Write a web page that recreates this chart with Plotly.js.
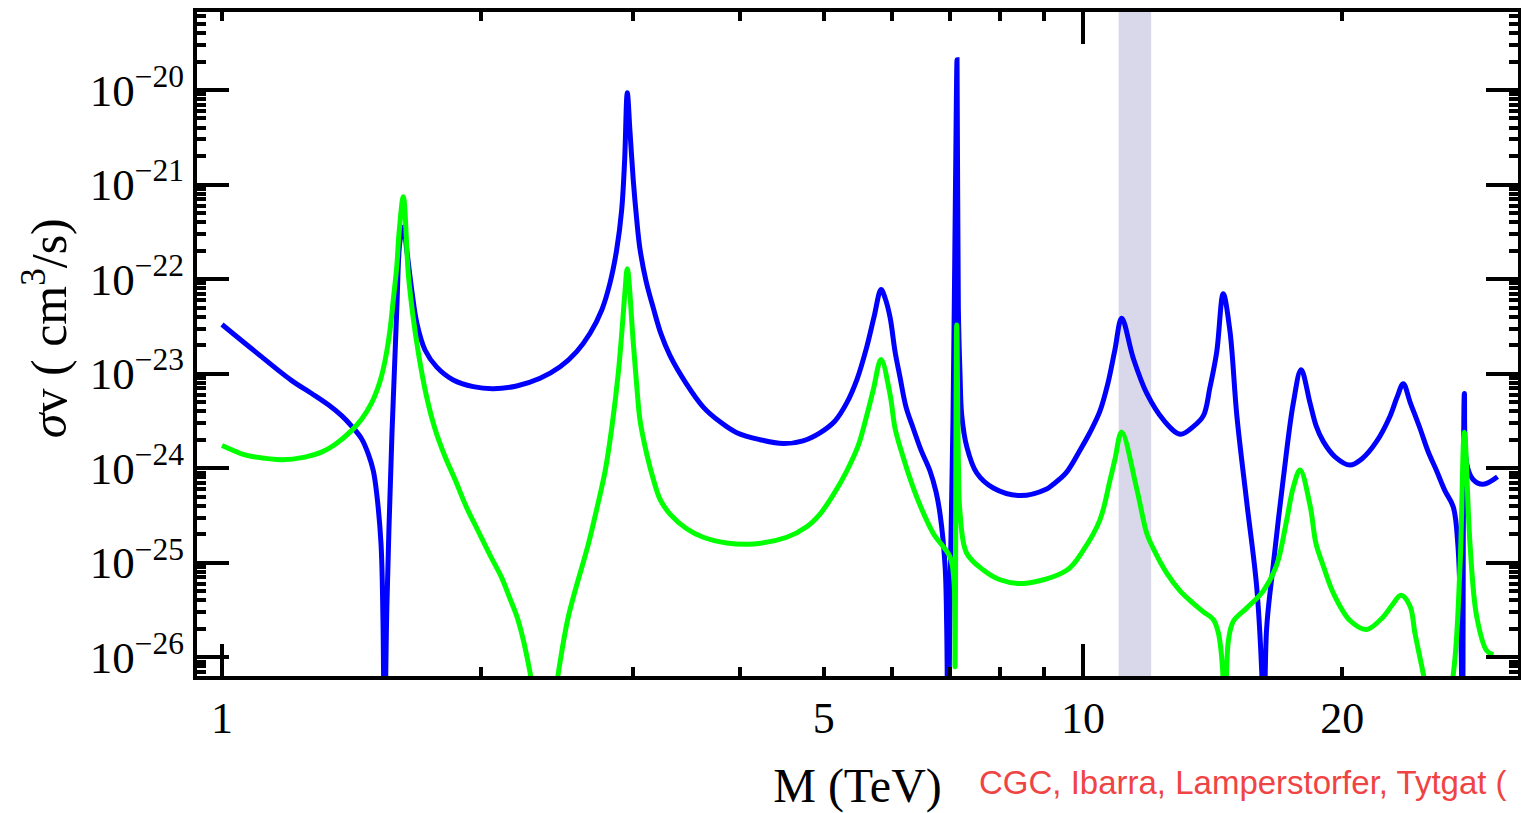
<!DOCTYPE html>
<html>
<head>
<meta charset="utf-8">
<script src="https://cdn.plot.ly/plotly-3.0.1.min.js"></script>
<style>html,body{margin:0;padding:0;background:#fff;}#chart{width:1521px;height:813px;}</style>
</head>
<body>
<div id="chart"></div>
<script>
// ---- data ----
const massBlue = [1.00,1.092,1.205,1.271,1.329,1.377,1.415,1.453,1.479,1.499,1.512,1.530,1.538,1.544,1.554,1.575,1.596,1.610,1.625,1.639,1.661,1.684,1.721,1.775,1.856,1.958,2.066,2.199,2.341,2.470,2.582,2.676,2.761,2.822,2.873,2.912,2.935,2.956,2.978,3.004,3.030,3.058,3.108,3.170,3.235,3.314,3.458,3.622,3.788,3.962,4.216,4.486,4.729,4.949,5.152,5.316,5.464,5.608,5.719,5.827,5.890,5.969,6.050,6.131,6.230,6.352,6.485,6.642,6.750,6.823,6.915,6.946,6.970,7.017,7.063,7.111,7.140,7.165,7.197,7.230,7.327,7.525,7.867,8.450,9.075,9.236,9.556,9.920,10.19,10.46,10.69,10.89,11.09,11.44,11.86,12.40,12.97,13.43,13.80,14.04,14.30,14.55,14.81,15.09,15.49,15.91,16.13,16.22,16.34,16.63,17.08,17.55,17.92,18.35,18.65,19.01,19.62,20.42,21.09,21.93,22.73,23.16,23.55,23.98,24.63,25.16,25.75,26.33,26.92,27.26,27.48,27.59,27.73,27.90,28.38,29.15,30.30];
const sigmaBlue = [3.31e-23,1.72e-23,8.43e-24,6.17e-24,4.68e-24,3.59e-24,2.77e-24,2.04e-24,1.41e-24,9.33e-25,5.50e-25,1.58e-25,2.51e-26,1e-27,3.31e-26,2.14e-24,4.90e-23,2.57e-22,3.55e-22,2.03e-22,7.67e-23,3.41e-23,1.78e-23,1.18e-23,8.57e-24,7.28e-24,6.93e-24,7.40e-24,8.93e-24,1.18e-23,1.71e-23,2.67e-23,4.71e-23,9.04e-23,2.03e-22,5.38e-22,1.78e-21,9.33e-21,3.55e-21,1.10e-21,4.47e-22,2.09e-22,9.55e-23,4.90e-23,2.63e-23,1.55e-23,7.94e-24,4.43e-24,3.09e-24,2.37e-24,2.00e-24,1.82e-24,1.95e-24,2.37e-24,3.16e-24,4.90e-24,8.71e-24,1.91e-23,3.98e-23,7.76e-23,6.31e-23,3.94e-23,1.70e-23,9.12e-24,4.43e-24,2.63e-24,1.55e-24,9.33e-25,5.62e-25,3.27e-25,9.33e-26,2.00e-26,1e-27,1.00e-25,3.16e-24,1.00e-21,2.09e-20,4.90e-23,1.00e-23,3.63e-24,1.70e-24,8.91e-25,6.17e-25,5.13e-25,6.03e-25,6.76e-25,8.91e-25,1.55e-24,2.40e-24,3.98e-24,7.94e-24,1.78e-23,3.85e-23,1.45e-23,6.17e-24,3.24e-24,2.29e-24,2.75e-24,3.59e-24,7.08e-24,1.70e-23,6.98e-23,2.88e-23,3.59e-24,4.47e-25,5.62e-26,6.92e-27,1e-27,2.00e-26,9.33e-26,7.59e-25,4.90e-24,1.10e-23,4.90e-24,2.82e-24,1.92e-24,1.32e-24,1.08e-24,1.26e-24,1.92e-24,3.55e-24,5.62e-24,7.83e-24,5.01e-24,2.63e-24,1.51e-24,9.33e-25,5.75e-25,3.89e-25,1.48e-25,1.58e-26,1e-27,6.17e-24,1.12e-24,7.59e-25,6.76e-25,8.13e-25];

const massGreen = [1.00,1.063,1.083,1.173,1.248,1.305,1.353,1.415,1.453,1.492,1.526,1.547,1.567,1.581,1.596,1.606,1.624,1.646,1.667,1.690,1.726,1.767,1.816,1.865,1.920,1.985,2.048,2.113,2.160,2.208,2.279,2.366,2.459,2.525,2.664,2.726,2.786,2.838,2.886,2.914,2.938,2.956,3.004,3.032,3.058,3.114,3.170,3.227,3.314,3.465,3.622,3.856,4.142,4.528,4.776,4.949,5.129,5.316,5.483,5.608,5.708,5.827,5.969,6.050,6.185,6.325,6.467,6.701,7.008,7.082,7.101,7.134,7.168,7.197,7.327,7.660,8.010,8.525,9.573,10.01,10.46,10.75,10.89,11.09,11.54,11.86,12.07,12.51,12.97,13.43,13.80,14.17,14.36,14.52,14.62,14.75,14.95,15.49,16.19,16.79,17.24,17.55,17.87,18.35,18.65,19.01,19.53,20.42,21.35,22.33,22.85,23.41,23.98,24.30,24.85,25.84,26.92,27.41,27.73,28.15,28.66,29.44,29.96];
const sigmaGreen = [1.74e-24,1.38e-24,1.33e-24,1.23e-24,1.31e-24,1.48e-24,1.78e-24,2.51e-24,3.31e-24,4.90e-24,8.32e-24,1.39e-23,2.88e-23,6.03e-23,1.38e-22,3.16e-22,7.41e-22,1.12e-22,3.98e-23,1.70e-23,6.03e-24,2.63e-24,1.32e-24,7.59e-25,3.98e-25,2.14e-25,1.20e-25,6.92e-26,4.17e-26,2.45e-26,6.92e-27,6.3e-28,6.92e-27,2.69e-26,1.58e-25,3.80e-25,9.33e-25,2.82e-24,1.02e-23,2.82e-23,7.41e-23,1.29e-22,2.11e-23,7.41e-24,3.24e-24,1.41e-24,7.59e-25,4.68e-25,3.27e-25,2.29e-25,1.86e-25,1.62e-25,1.58e-25,1.86e-25,2.40e-25,3.27e-25,5.25e-25,9.33e-25,1.74e-24,3.60e-24,6.76e-24,1.41e-23,6.03e-24,2.63e-24,1.29e-24,6.92e-25,4.07e-25,2.04e-25,1.15e-25,6.31e-26,7.94e-27,3.27e-23,1.00e-24,3.39e-25,1.26e-25,8.38e-26,6.61e-26,6.03e-26,8.32e-26,1.36e-25,2.82e-25,7.50e-25,1.23e-24,2.42e-24,6.17e-25,2.04e-25,1.41e-25,7.76e-26,5.01e-26,3.72e-26,3.02e-26,2.51e-26,1.82e-26,7.94e-27,1e-27,1.48e-26,2.40e-26,3.31e-26,5.01e-26,9.55e-26,2.82e-25,6.31e-25,9.55e-25,4.07e-25,1.58e-25,9.33e-26,4.79e-26,2.45e-26,1.97e-26,2.69e-26,3.55e-26,4.52e-26,3.47e-26,1.78e-26,6.61e-27,1e-27,6.61e-27,9.33e-26,2.40e-24,1.58e-25,2.69e-26,1.17e-26,1.06e-26];

const bandMass = [11.0, 12.0];

const yTickVals = [1e-26,1e-25,1e-24,1e-23,1e-22,1e-21,1e-20];
const yTickText = ['10<sup>−26</sup>','10<sup>−25</sup>','10<sup>−24</sup>','10<sup>−23</sup>','10<sup>−22</sup>','10<sup>−21</sup>','10<sup>−20</sup>'];
const xTickVals = [1,5,10,20];
const xTickText = ['1','5','10','20'];
const xMinorVals = [2,3,4,6,7,8,9];
const xLongBottom = [1,10];
const xLongTop = [10];

const yTitle = '<i>σ</i>v ( cm<sup>3</sup>/s)';
const xTitle = 'M (TeV)';
const credit = 'CGC, Ibarra, Lamperstorfer, Tytgat (';

// minor y ticks at 2..9 x each decade
const yMinorVals = [];
for (let e = -27; e <= -20; e++) for (let m = 2; m <= 9; m++) yMinorVals.push(m * Math.pow(10, e));

const xRange = [-0.02904, 1.50523];
const yRange = [-26.198, -19.175];
const serif = 'Liberation Serif, Times New Roman, serif';

const traces = [
  {x: massBlue, y: sigmaBlue, type: 'scatter', mode: 'lines', line: {color: '#0000ff', width: 5, shape: 'spline', smoothing: 1}, hoverinfo: 'skip', showlegend: false},
  {x: massGreen, y: sigmaGreen, type: 'scatter', mode: 'lines', line: {color: '#00ff00', width: 5, shape: 'spline', smoothing: 1}, hoverinfo: 'skip', showlegend: false},
  {x: [], y: [], xaxis: 'x2', type: 'scatter', mode: 'lines', showlegend: false},
  {x: [], y: [], xaxis: 'x3', type: 'scatter', mode: 'lines', showlegend: false}
];

const layout = {
  width: 1521, height: 813,
  margin: {l: 197, r: 3, t: 12, b: 137},
  paper_bgcolor: '#ffffff', plot_bgcolor: '#ffffff',
  showlegend: false,
  xaxis: {
    type: 'log', range: xRange, showgrid: false, zeroline: false,
    showline: true, linecolor: '#000', linewidth: 4, mirror: 'ticks',
    ticks: 'inside', ticklen: 9, tickwidth: 4, tickcolor: '#000',
    tickmode: 'array', tickvals: xTickVals, ticktext: xTickText,
    tickfont: {family: serif, size: 44, color: '#000'},
    minor: {tickmode: 'array', tickvals: xMinorVals, ticks: 'inside', ticklen: 9, tickwidth: 4, tickcolor: '#000', showgrid: false},
    title: {text: xTitle, font: {family: serif, size: 48, color: '#000'}, standoff: 28}
  },
  xaxis2: {
    type: 'log', range: xRange, overlaying: 'x', anchor: 'y', side: 'bottom',
    showgrid: false, zeroline: false, showline: false, showticklabels: false,
    ticks: 'inside', ticklen: 32, tickwidth: 4, tickcolor: '#000',
    tickmode: 'array', tickvals: xLongBottom
  },
  xaxis3: {
    type: 'log', range: xRange, overlaying: 'x', anchor: 'y', side: 'top',
    showgrid: false, zeroline: false, showline: false, showticklabels: false,
    ticks: 'inside', ticklen: 32, tickwidth: 4, tickcolor: '#000',
    tickmode: 'array', tickvals: xLongTop
  },
  yaxis: {
    type: 'log', range: yRange, showgrid: false, zeroline: false,
    showline: true, linecolor: '#000', linewidth: 4, mirror: 'ticks',
    ticks: 'inside', ticklen: 32, tickwidth: 4, tickcolor: '#000',
    tickmode: 'array', tickvals: yTickVals, ticktext: yTickText,
    tickfont: {family: serif, size: 45, color: '#000'},
    minor: {tickmode: 'array', tickvals: yMinorVals, ticks: 'inside', ticklen: 9, tickwidth: 4, tickcolor: '#000', showgrid: false}
  },
  shapes: [{
    type: 'rect', xref: 'x', yref: 'paper', x0: bandMass[0], x1: bandMass[1], y0: 0, y1: 1,
    fillcolor: 'rgb(216,216,234)', line: {width: 0}, layer: 'below'
  }],
  annotations: [
    {
      text: yTitle, textangle: -90,
      xref: 'paper', yref: 'paper', x: -0.115, y: 0.524, xanchor: 'center', yanchor: 'middle',
      showarrow: false, font: {family: serif, size: 50, color: '#000'}
    },
    {
      text: credit,
      xref: 'paper', yref: 'paper', x: 0.5905, y: -0.161, xanchor: 'left', yanchor: 'middle',
      showarrow: false, font: {family: 'Liberation Sans, Arial, sans-serif', size: 33, color: 'rgb(240,68,68)'}
    }
  ]
};

Plotly.newPlot('chart', traces, layout, {displayModeBar: false, staticPlot: true});
</script>
</body>
</html>
